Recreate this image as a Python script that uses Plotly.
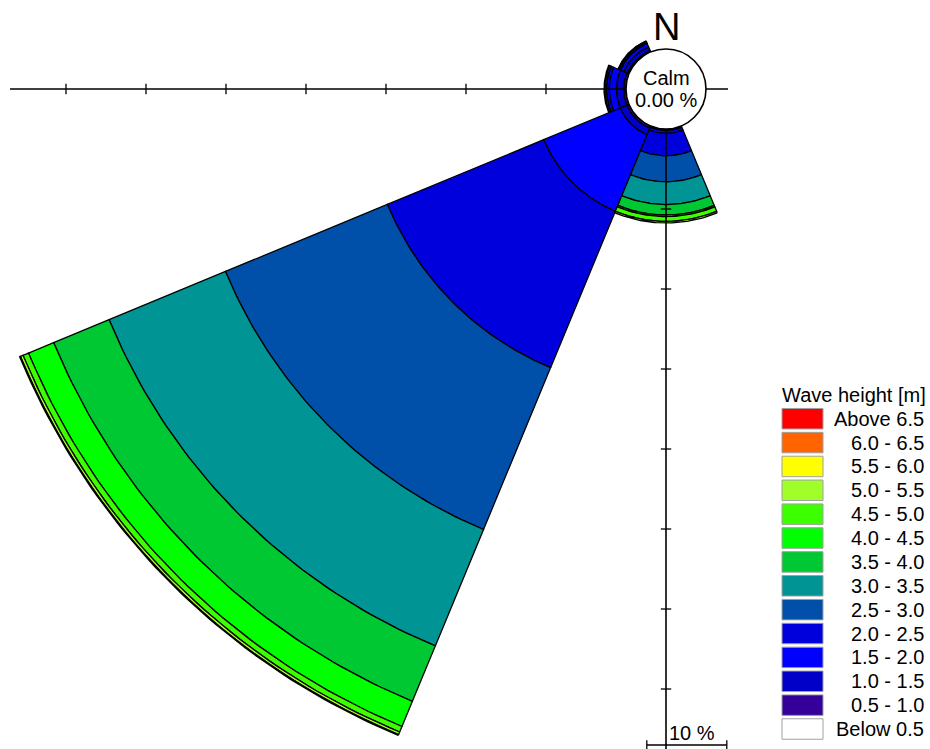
import numpy as np
import plotly.graph_objects as go

# ---------------- data ----------------
directions = ["N", "NE", "E", "SE", "S", "SW", "W", "NW"]
bearings = [0, 45, 90, 135, 180, 225, 270, 315]   # compass bearing of sector centre
sector_width = 45.0

classes = ["Below 0.5", "0.5 - 1.0", "1.0 - 1.5", "1.5 - 2.0", "2.0 - 2.5",
           "2.5 - 3.0", "3.0 - 3.5", "3.5 - 4.0", "4.0 - 4.5", "4.5 - 5.0",
           "5.0 - 5.5", "5.5 - 6.0", "6.0 - 6.5", "Above 6.5"]
class_colors = ["#FFFFFF", "#330099", "#0000C8", "#0000FF", "#0000DC",
                "#0050AA", "#009494", "#00C832", "#00FF00", "#3CFF00",
                "#A0FF28", "#FFFF00", "#FF6400", "#FF0000"]

# frequency [%] per class, per direction (N, NE, E, SE, S, SW, W, NW)
freq_below_05 = [0, 0, 0, 0, 0.00, 0.00, 0.00, 0.00]
freq_05_10    = [0, 0, 0, 0, 0.05, 0.30, 0.30, 0.20]
freq_10_15    = [0, 0, 0, 0, 0.15, 0.90, 0.90, 0.50]
freq_15_20    = [0, 0, 0, 0, 0.35, 10.35, 0.90, 0.45]
freq_20_25    = [0, 0, 0, 0, 2.80, 21.15, 0.35, 0.20]
freq_25_30    = [0, 0, 0, 0, 3.25, 21.90, 0.20, 0.10]
freq_30_35    = [0, 0, 0, 0, 2.85, 15.75, 0.10, 0.05]
freq_35_40    = [0, 0, 0, 0, 1.30, 7.50, 0.00, 0.00]
freq_40_45    = [0, 0, 0, 0, 0.20, 3.40, 0.00, 0.00]
freq_45_50    = [0, 0, 0, 0, 0.60, 0.75, 0.00, 0.00]
freq_50_55    = [0, 0, 0, 0, 0.20, 0.35, 0.00, 0.00]
freq_55_60    = [0, 0, 0, 0, 0.00, 0.10, 0.00, 0.00]
freq_60_65    = [0, 0, 0, 0, 0.00, 0.00, 0.00, 0.00]
freq_above_65 = [0, 0, 0, 0, 0.00, 0.00, 0.00, 0.00]

calm_pct = 0.00
radial_ticks = [10, 20, 30, 40, 50, 60, 70]
scale_bar_pct = 10

series = [freq_below_05, freq_05_10, freq_10_15, freq_15_20, freq_20_25,
          freq_25_30, freq_30_35, freq_35_40, freq_40_45, freq_45_50,
          freq_50_55, freq_55_60, freq_60_65, freq_above_65]

# ---------------- layout constants ----------------
W, H = 930, 749
PX_PER_UNIT = 8.0          # 1 % = 8 px
CX, CY = 666.0, 89.0       # rose centre in pixels
calm_radius = 5.0          # radius of calm circle in % units
FONT = "Liberation Sans, Arial, sans-serif"

x_range = [-CX / PX_PER_UNIT, (W - CX) / PX_PER_UNIT]
y_range = [(CY - H) / PX_PER_UNIT, CY / PX_PER_UNIT]


def px2paper(px, py):
    return px / W, 1 - py / H


def segment(bearing, r_in, r_out, n=60):
    th = np.radians(np.linspace(bearing - sector_width / 2, bearing + sector_width / 2, n))
    xo, yo = r_out * np.sin(th), r_out * np.cos(th)
    xi, yi = r_in * np.sin(th[::-1]), r_in * np.cos(th[::-1])
    xs = np.concatenate([xo, xi, xo[:1]])
    ys = np.concatenate([yo, yi, yo[:1]])
    return list(xs), list(ys)


fig = go.Figure()

cum = np.zeros(len(directions))
for cls, col, vals in zip(classes, class_colors, series):
    xs, ys = [], []
    for k, v in enumerate(vals):
        if v > 0:
            r_in = calm_radius + cum[k]
            r_out = r_in + v
            sx, sy = segment(bearings[k], r_in, r_out)
            xs += sx + [None]
            ys += sy + [None]
    cum += np.array(vals, dtype=float)
    if xs:
        fig.add_trace(go.Scatter(x=xs, y=ys, mode="lines", fill="toself",
                                 fillcolor=col, line=dict(color="black", width=1.3),
                                 name=cls, showlegend=False, hoverinfo="skip"))

shapes = []
axis_line = dict(color="black", width=1.6)
tick_line = dict(color="black", width=1.3)
tick_half = 0.65
# horizontal axis (W direction) and vertical axis (S direction)
shapes.append(dict(type="line", xref="x", yref="y", x0=x_range[0] + 1.25, x1=calm_radius + 2.75,
                   y0=0, y1=0, line=axis_line))
shapes.append(dict(type="line", xref="x", yref="y", x0=0, x1=0,
                   y0=0, y1=y_range[0] - 2, line=axis_line))
for t in radial_ticks:
    r = calm_radius + t
    shapes.append(dict(type="line", xref="x", yref="y", x0=-r, x1=-r,
                       y0=-tick_half, y1=tick_half, line=tick_line))
    shapes.append(dict(type="line", xref="x", yref="y", x0=-tick_half, x1=tick_half,
                       y0=-r, y1=-r, line=tick_line))
# calm circle
shapes.append(dict(type="circle", xref="x", yref="y", x0=-calm_radius, x1=calm_radius,
                   y0=-calm_radius, y1=calm_radius, fillcolor="white",
                   line=dict(color="black", width=1.6)))
# scale bar
sb_y = y_range[0] + 0.5
sb_x0 = -2.4
shapes.append(dict(type="line", xref="x", yref="y", x0=sb_x0, x1=sb_x0 + scale_bar_pct,
                   y0=sb_y, y1=sb_y, line=axis_line))
for xx in (sb_x0, sb_x0 + scale_bar_pct):
    shapes.append(dict(type="line", xref="x", yref="y", x0=xx, x1=xx,
                       y0=sb_y - 0.7, y1=sb_y + 0.6, line=tick_line))

annotations = []
annotations.append(dict(x=0, y=(CY - 27) / PX_PER_UNIT, xref="x", yref="y", text="N",
                        showarrow=False, font=dict(family=FONT, size=38, color="black"),
                        xanchor="center", yanchor="middle"))
annotations.append(dict(x=0, y=(CY - 78) / PX_PER_UNIT, xref="x", yref="y", text="Calm",
                        showarrow=False, font=dict(family=FONT, size=20, color="black"),
                        xanchor="center", yanchor="middle"))
annotations.append(dict(x=0, y=(CY - 100) / PX_PER_UNIT, xref="x", yref="y",
                        text=f"{calm_pct:.2f} %",
                        showarrow=False, font=dict(family=FONT, size=20, color="black"),
                        xanchor="center", yanchor="middle"))
annotations.append(dict(x=0.1, y=sb_y + 1.5, xref="x", yref="y", text=f"{scale_bar_pct} %",
                        showarrow=False, font=dict(family=FONT, size=20, color="black"),
                        xanchor="left", yanchor="middle"))

# legend (manual)
tx, ty = px2paper(780, 395)
annotations.append(dict(x=tx, y=ty, xref="paper", yref="paper", text="Wave height [m]",
                        showarrow=False, font=dict(family=FONT, size=20, color="black"),
                        xanchor="left", yanchor="middle"))
row0, row_step, box_h = 418.7, 23.87, 20.5
for i, (cls, col) in enumerate(zip(classes[::-1], class_colors[::-1])):
    cy = row0 + i * row_step
    x0, y0 = px2paper(782, cy + box_h / 2)
    x1, y1 = px2paper(823, cy - box_h / 2)
    shapes.append(dict(type="rect", xref="paper", yref="paper", x0=x0, x1=x1, y0=y0, y1=y1,
                       fillcolor=col, line=dict(color="#A0A0A0", width=1)))
    lx, ly = px2paper(926, cy)
    annotations.append(dict(x=lx, y=ly, xref="paper", yref="paper", text=cls,
                            showarrow=False, font=dict(family=FONT, size=20, color="black"),
                            xanchor="right", yanchor="middle"))

fig.update_layout(
    width=W, height=H, autosize=False,
    margin=dict(l=0, r=0, t=0, b=0),
    paper_bgcolor="white", plot_bgcolor="white",
    xaxis=dict(range=x_range, visible=False, fixedrange=True),
    yaxis=dict(range=y_range, visible=False, fixedrange=True),
    shapes=shapes, annotations=annotations, showlegend=False,
)

fig.write_html("out.html",
               config={"displayModeBar": False},
               post_script="document.body.style.margin='0';"
                           "document.body.style.padding='0';"
                           "document.body.style.overflow='hidden';")
